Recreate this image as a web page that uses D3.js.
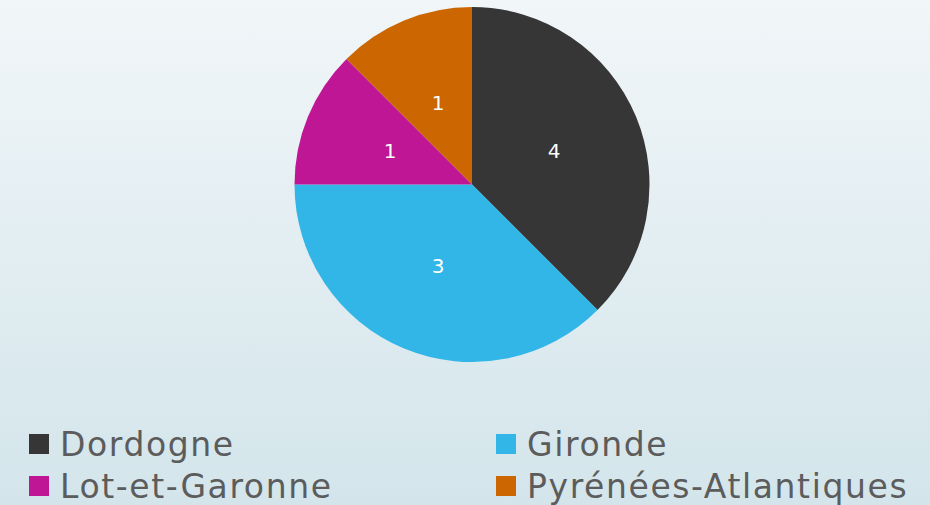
<!DOCTYPE html>
<html>
<head>
<meta charset="utf-8">
<script src="https://cdn.jsdelivr.net/npm/d3@7"></script>
<style>
  html, body { margin: 0; padding: 0; }
  body { width: 930px; height: 505px; overflow: hidden; }
</style>
</head>
<body>
<div id="chart"></div>
<script>
// departments and their colours
const departements = ['Dordogne', 'Gironde', 'Lot-et-Garonne', 'Pyrénées-Atlantiques'];
const couleurs = ['#363636', '#31b6e7', '#bf1695', '#cc6600'];
// slice sizes as drawn, and the data labels printed on them
const parts = [3, 3, 1, 1];
const etiquettes = ['4', '3', '1', '1'];

const width = 930, height = 505;
const fontFam = '"Century Gothic", "DejaVu Sans", sans-serif';

const svg = d3.select('#chart').append('svg')
  .attr('width', width)
  .attr('height', height);

const grad = svg.append('defs').append('linearGradient')
  .attr('id', 'bg').attr('x1', 0).attr('y1', 0).attr('x2', 0).attr('y2', 1);
grad.append('stop').attr('offset', '0%').attr('stop-color', '#f1f6f8');
grad.append('stop').attr('offset', '100%').attr('stop-color', '#d3e5eb');

svg.append('rect')
  .attr('width', width).attr('height', height)
  .attr('fill', 'url(#bg)');

const data = departements.map((d, i) => ({ name: d, value: parts[i], label: etiquettes[i], color: couleurs[i] }));

const radius = 177.5;
const pie = d3.pie().value(d => d.value).sort(null);
const arc = d3.arc().innerRadius(0).outerRadius(radius);

const g = svg.append('g').attr('transform', 'translate(472,184.5)');

const slices = g.selectAll('g.slice')
  .data(pie(data))
  .join('g')
  .attr('class', 'slice');

slices.append('path')
  .attr('d', arc)
  .attr('fill', d => d.data.color);

slices.append('text')
  .attr('transform', d => `translate(${arc.centroid(d)})`)
  .attr('text-anchor', 'middle')
  .attr('dominant-baseline', 'central')
  .attr('fill', '#ffffff')
  .attr('font-family', fontFam)
  .attr('font-size', 20)
  .text(d => d.data.label);

// legend, two columns
const legendX = [29, 496];
const legendY = [434, 476];
const legend = svg.selectAll('g.legend')
  .data(data)
  .join('g')
  .attr('class', 'legend')
  .attr('transform', (d, i) => `translate(${legendX[i % 2]},${legendY[Math.floor(i / 2)]})`);

legend.append('rect')
  .attr('width', 20).attr('height', 20)
  .attr('fill', d => d.color);

legend.append('text')
  .attr('x', 31)
  .attr('y', 22)
  .attr('fill', '#5c5c5c')
  .attr('font-family', fontFam)
  .attr('font-size', 33)
  .attr('letter-spacing', 1.6)
  .text(d => d.name);
</script>
</body>
</html>
